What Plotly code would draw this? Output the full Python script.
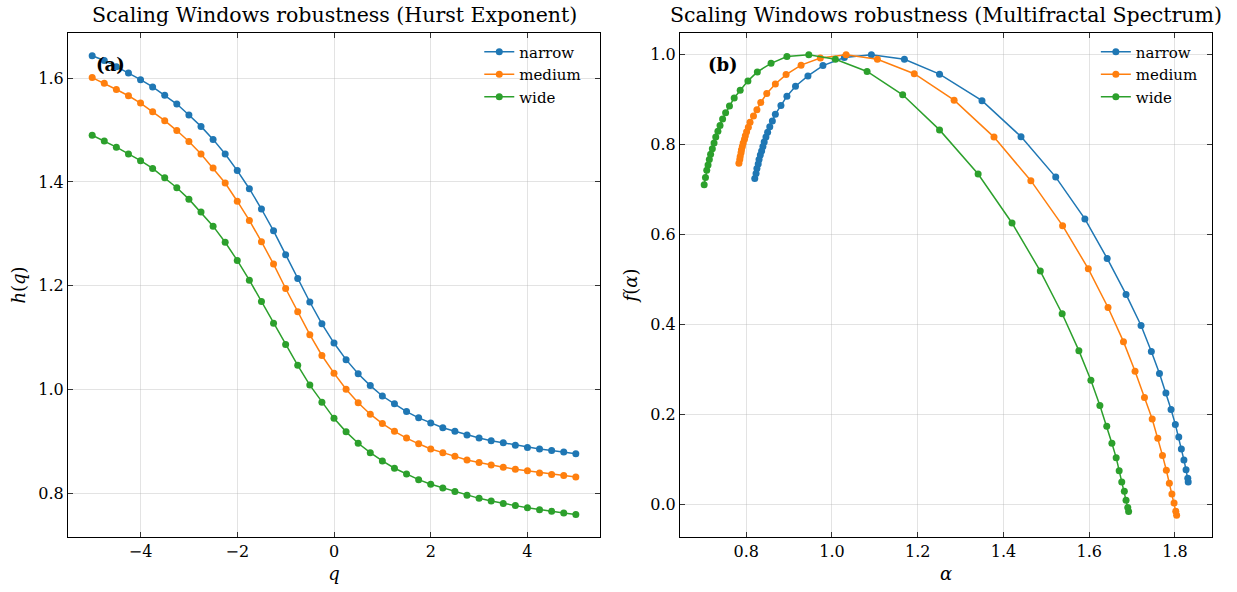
import plotly.graph_objects as go
from plotly.subplots import make_subplots

# ---------------- data ----------------
q_values = [-5.0, -4.75, -4.5, -4.25, -4.0, -3.75, -3.5, -3.25, -3.0, -2.75, -2.5, -2.25, -2.0,
            -1.75, -1.5, -1.25, -1.0, -0.75, -0.5, -0.25, 0.0, 0.25, 0.5, 0.75, 1.0, 1.25, 1.5,
            1.75, 2.0, 2.25, 2.5, 2.75, 3.0, 3.25, 3.5, 3.75, 4.0, 4.25, 4.5, 4.75, 5.0]

h_narrow = [1.643, 1.634, 1.622, 1.610, 1.597, 1.583, 1.567, 1.550, 1.529, 1.507, 1.482, 1.454, 1.422,
            1.387, 1.348, 1.306, 1.260, 1.214, 1.169, 1.127, 1.090, 1.058, 1.031, 1.008, 0.988, 0.973,
            0.958, 0.946, 0.936, 0.927, 0.920, 0.913, 0.907, 0.902, 0.898, 0.893, 0.889, 0.886, 0.883,
            0.880, 0.877]
h_medium = [1.601, 1.590, 1.578, 1.566, 1.552, 1.535, 1.518, 1.499, 1.478, 1.454, 1.427, 1.398, 1.363,
            1.326, 1.285, 1.242, 1.195, 1.150, 1.106, 1.066, 1.032, 1.001, 0.975, 0.953, 0.935, 0.920,
            0.907, 0.896, 0.886, 0.879, 0.872, 0.865, 0.860, 0.855, 0.851, 0.847, 0.844, 0.840, 0.837,
            0.835, 0.832]
h_wide = [1.490, 1.479, 1.467, 1.454, 1.441, 1.426, 1.408, 1.389, 1.367, 1.342, 1.315, 1.284, 1.249,
          1.211, 1.170, 1.128, 1.087, 1.047, 1.009, 0.976, 0.945, 0.919, 0.897, 0.879, 0.863, 0.849,
          0.838, 0.827, 0.818, 0.811, 0.804, 0.797, 0.791, 0.786, 0.781, 0.777, 0.773, 0.769, 0.766,
          0.763, 0.760]

alpha_narrow = [1.831, 1.830, 1.826, 1.821, 1.815, 1.809, 1.801, 1.791, 1.779, 1.764, 1.745, 1.721, 1.686,
                1.642, 1.590, 1.522, 1.441, 1.350, 1.251, 1.169, 1.092, 1.029, 0.979, 0.944, 0.915, 0.895,
                0.881, 0.868, 0.861, 0.855, 0.850, 0.846, 0.842, 0.839, 0.836, 0.833, 0.830, 0.828, 0.825,
                0.823, 0.820]
f_narrow = [0.050, 0.058, 0.077, 0.099, 0.123, 0.150, 0.178, 0.211, 0.248, 0.291, 0.340, 0.398, 0.467,
            0.547, 0.635, 0.728, 0.818, 0.898, 0.957, 0.990, 1.000, 0.994, 0.976, 0.953, 0.930, 0.908,
            0.887, 0.868, 0.853, 0.840, 0.828, 0.817, 0.806, 0.796, 0.786, 0.777, 0.767, 0.757, 0.747,
            0.736, 0.725]

alpha_medium = [1.804, 1.802, 1.798, 1.793, 1.787, 1.780, 1.771, 1.760, 1.747, 1.729, 1.707, 1.680, 1.644,
                1.598, 1.538, 1.464, 1.378, 1.285, 1.192, 1.106, 1.033, 0.973, 0.928, 0.893, 0.868, 0.848,
                0.834, 0.825, 0.817, 0.809, 0.805, 0.801, 0.798, 0.796, 0.793, 0.791, 0.789, 0.788, 0.786,
                0.785, 0.783]
f_medium = [-0.024, -0.015, 0.003, 0.023, 0.047, 0.076, 0.109, 0.147, 0.190, 0.238, 0.296, 0.362, 0.438,
            0.524, 0.620, 0.720, 0.817, 0.899, 0.958, 0.990, 1.000, 0.993, 0.977, 0.956, 0.935, 0.914,
            0.894, 0.878, 0.864, 0.850, 0.839, 0.829, 0.820, 0.812, 0.804, 0.796, 0.789, 0.782, 0.774,
            0.767, 0.759]

alpha_wide = [1.692, 1.690, 1.686, 1.682, 1.676, 1.670, 1.663, 1.653, 1.641, 1.625, 1.604, 1.576, 1.537,
              1.486, 1.420, 1.341, 1.251, 1.165, 1.082, 1.008, 0.946, 0.895, 0.858, 0.826, 0.804, 0.786,
              0.772, 0.761, 0.752, 0.745, 0.739, 0.734, 0.729, 0.725, 0.721, 0.717, 0.714, 0.711, 0.708,
              0.705, 0.702]
f_wide = [-0.016, -0.007, 0.009, 0.029, 0.050, 0.075, 0.104, 0.136, 0.174, 0.220, 0.276, 0.342, 0.424,
          0.519, 0.626, 0.735, 0.833, 0.911, 0.963, 0.990, 1.000, 0.996, 0.981, 0.962, 0.942, 0.921,
          0.904, 0.886, 0.871, 0.857, 0.843, 0.830, 0.817, 0.804, 0.791, 0.779, 0.767, 0.755, 0.743,
          0.727, 0.711]

series_names = ["narrow", "medium", "wide"]
colors = ["#1f77b4", "#ff7f0e", "#2ca02c"]
h_series = [h_narrow, h_medium, h_wide]
alpha_series = [alpha_narrow, alpha_medium, alpha_wide]
f_series = [f_narrow, f_medium, f_wide]

titles = ["Scaling Windows robustness (Hurst Exponent)",
          "Scaling Windows robustness (Multifractal Spectrum)"]

# ---------------- figure ----------------
FONT = "DejaVu Serif"
W, H = 1237, 592
ML, MR, MT, MB = 68, 25, 33, 55
plot_w = W - ML - MR

fig = make_subplots(rows=1, cols=2, horizontal_spacing=(680 - 600) / plot_w)

for name, col, hv in zip(series_names, colors, h_series):
    fig.add_trace(go.Scatter(x=q_values, y=hv, mode="lines+markers", name=name,
                             line=dict(color=col, width=1.5),
                             marker=dict(color=col, size=7),
                             legend="legend"), row=1, col=1)

for name, col, av, fv in zip(series_names, colors, alpha_series, f_series):
    fig.add_trace(go.Scatter(x=av, y=fv, mode="lines+markers", name=name,
                             line=dict(color=col, width=1.5),
                             marker=dict(color=col, size=7),
                             legend="legend2"), row=1, col=2)

axis_common = dict(showline=True, linecolor="black", linewidth=1, mirror="allticks",
                   ticks="inside", ticklen=5, tickwidth=1, tickcolor="#333333",
                   showgrid=True, gridcolor="rgba(176,176,176,0.35)", gridwidth=1,
                   zeroline=False, tickfont=dict(family=FONT, size=16, color="black"),
                   title_font=dict(family=FONT, size=18, color="black"))

fig.update_xaxes(**axis_common)
fig.update_yaxes(**axis_common)

fig.update_xaxes(range=[-5.5, 5.5], tickvals=[-4, -2, 0, 2, 4],
                 title_text="<i>q</i>", title_standoff=7, row=1, col=1)
fig.update_yaxes(range=[0.7166, 1.6868], tickvals=[0.8, 1.0, 1.2, 1.4, 1.6], tickformat=".1f",
                 title_text="<i>h</i>(<i>q</i>)", title_standoff=8, row=1, col=1)
fig.update_xaxes(range=[0.6456, 1.8865], tickvals=[0.8, 1.0, 1.2, 1.4, 1.6, 1.8], tickformat=".1f",
                 title_text="<i>α</i>", title_standoff=7, row=1, col=2)
fig.update_yaxes(range=[-0.0725, 1.0485], tickvals=[0.0, 0.2, 0.4, 0.6, 0.8, 1.0], tickformat=".1f",
                 title_text="<i>f</i>(<i>α</i>)", title_standoff=8, row=1, col=2)

dom1 = fig.layout.xaxis.domain
dom2 = fig.layout.xaxis2.domain

annotations = []
for dom, t in zip([dom1, dom2], titles):
    annotations.append(dict(text=t, x=(dom[0] + dom[1]) / 2, y=1.0, xref="paper", yref="paper",
                            xanchor="center", yanchor="bottom", yshift=4, showarrow=False,
                            font=dict(family=FONT, size=20.5, color="black")))
for dom, lab in zip([dom1, dom2], ["(a)", "(b)"]):
    annotations.append(dict(text="<b>" + lab + "</b>", x=dom[0] + 0.048 * (dom[1] - dom[0]), y=0.963,
                            xref="paper", yref="paper", xanchor="left", yanchor="top",
                            showarrow=False, font=dict(family=FONT, size=18, color="black")))

legend_common = dict(bgcolor="rgba(0,0,0,0)", borderwidth=0, yanchor="top", xanchor="right",
                     y=0.995, font=dict(family=FONT, size=15, color="black"),
                     itemwidth=30, tracegroupgap=0)

fig.update_layout(
    width=W, height=H,
    margin=dict(l=ML, r=MR, t=MT, b=MB),
    plot_bgcolor="white", paper_bgcolor="white",
    font=dict(family=FONT, color="black"),
    annotations=annotations,
    legend=dict(x=dom1[1] - 0.012, **legend_common),
    legend2=dict(x=dom2[1] - 0.008, **legend_common),
)

fig.write_html("out.html")
